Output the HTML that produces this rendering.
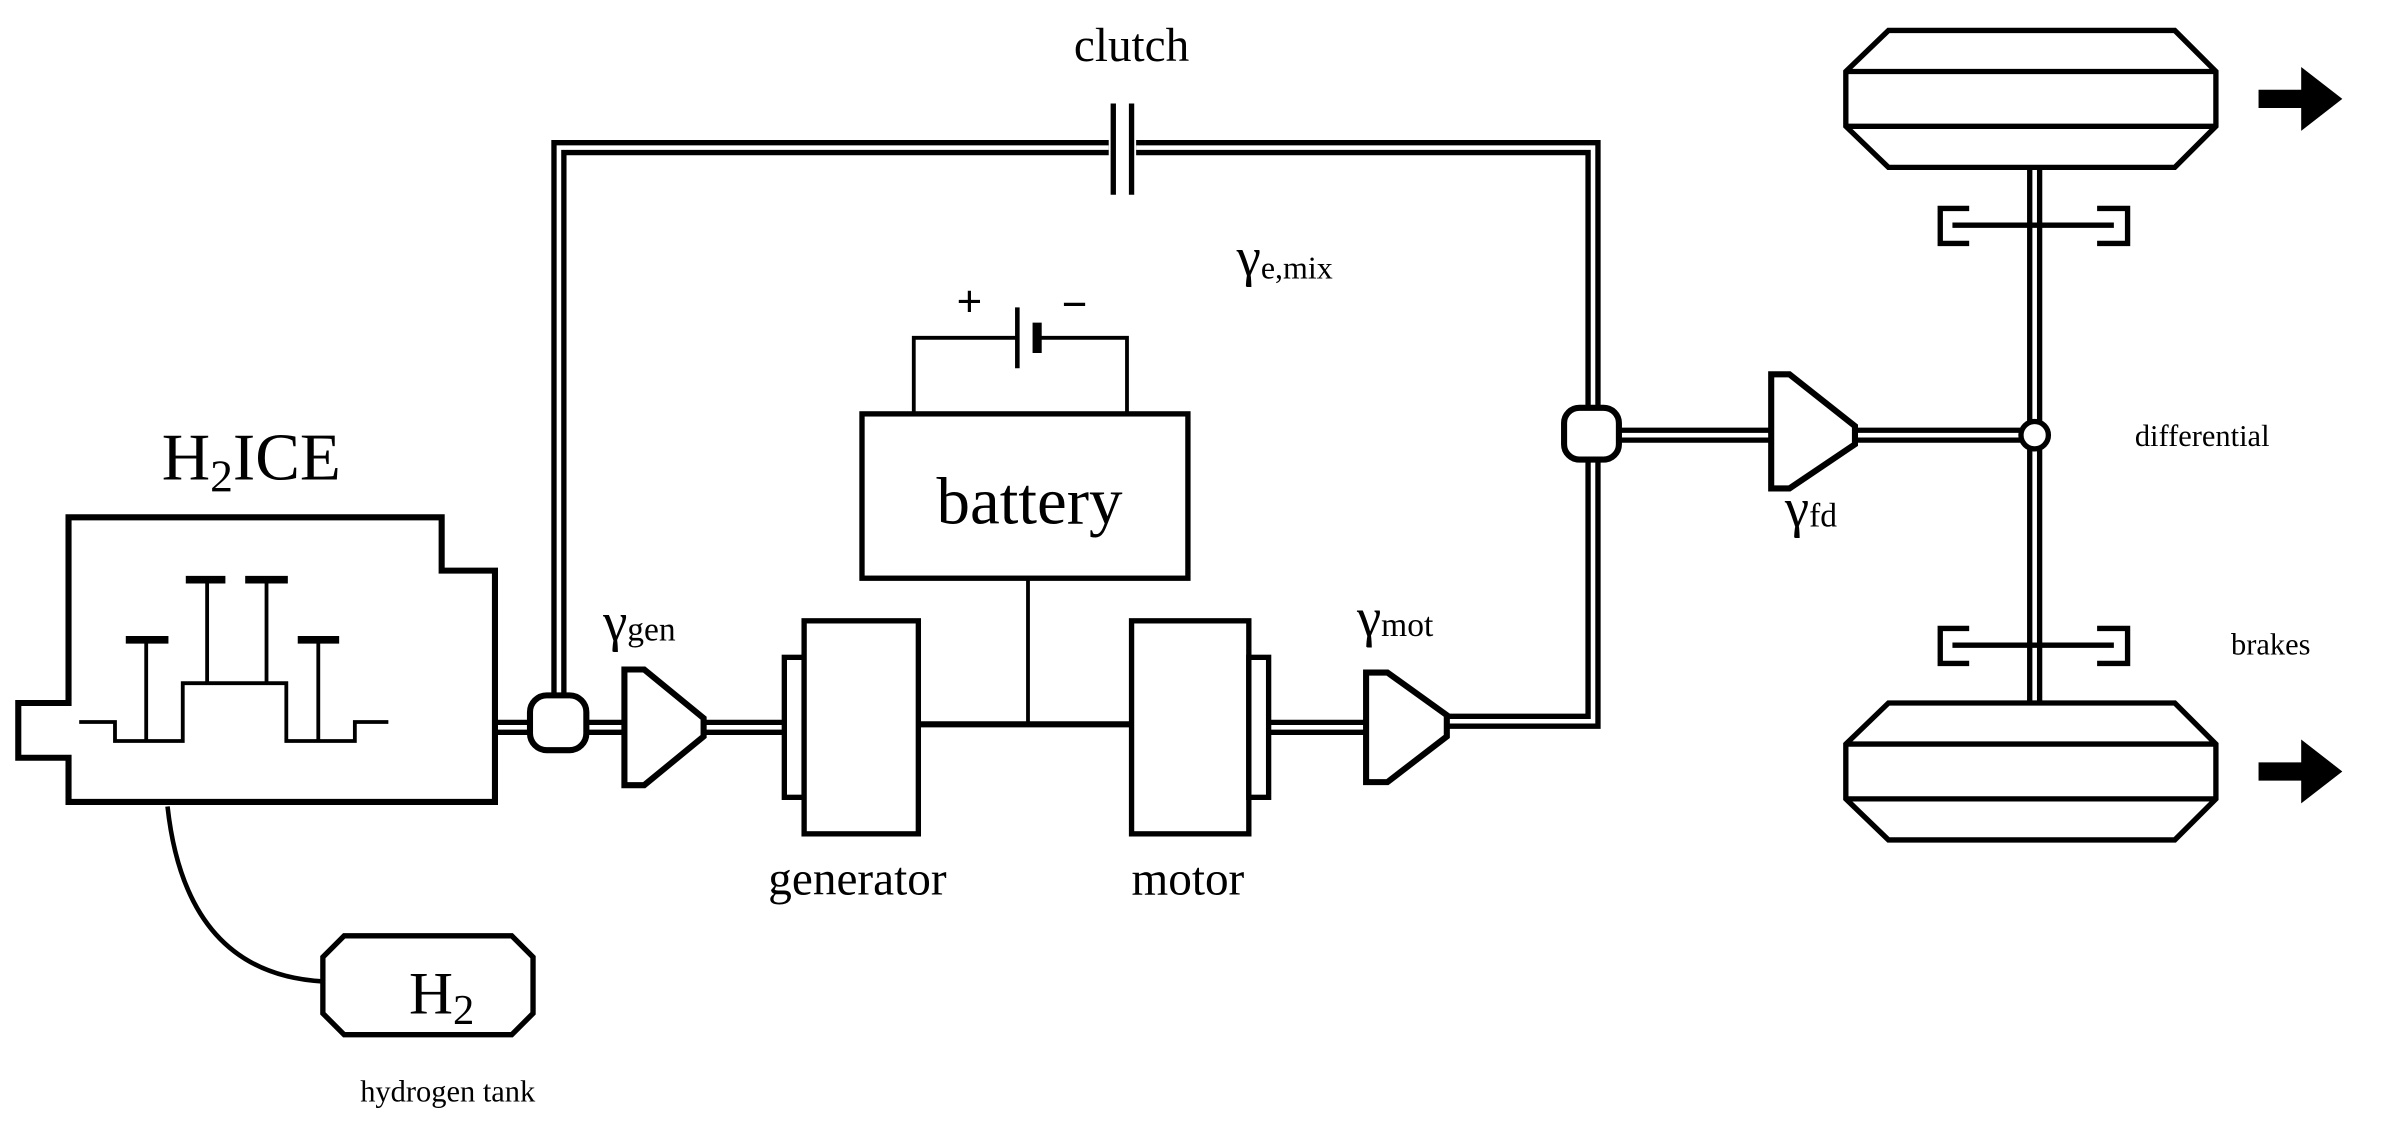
<!DOCTYPE html>
<html><head><meta charset="utf-8"><style>
html,body{margin:0;padding:0;background:#fff;}
svg{display:block;}
text{font-family:"Liberation Serif","DejaVu Serif",serif;fill:#000;}
</style></head><body>
<svg width="2388" height="1126" viewBox="0 0 1568 740" preserveAspectRatio="none" xmlns="http://www.w3.org/2000/svg">
<g fill="none" stroke="#000" stroke-linejoin="miter">
<g stroke-width="10">
<path d="M325,478 H410"/>
<path d="M367,460 V97 H728"/>
<path d="M746,97 H1046 V270"/>
<path d="M1046,300 V474 H950"/>
<path d="M462,478 H515"/>
<path d="M833,478 H897"/>
<path d="M1063,286 H1163"/>
<path d="M1218,286 H1327"/>
<path d="M1336,110 V277"/>
<path d="M1336,295 V462"/>
</g>
<g stroke="#fff" stroke-width="3">
<path d="M325,478 H410"/>
<path d="M367,460 V97 H728"/>
<path d="M746,97 H1046 V270"/>
<path d="M1046,300 V474 H950"/>
<path d="M462,478 H515"/>
<path d="M833,478 H897"/>
<path d="M1063,286 H1163"/>
<path d="M1218,286 H1327"/>
<path d="M1336,110 V277"/>
<path d="M1336,295 V462"/>
</g>
<path d="M731,68 V128 M743,68 V128" stroke-width="3.5"/>
<path d="M45,340 H290 V375 H325 V527 H45 V498 H12 V462 H45 Z" stroke-width="4" fill="#fff"/>
<path d="M52,474.5 H75.5 V487 H120 V449 H188 V487 H233 V474.5 H255" stroke-width="2.5"/>
<path d="M96,420.5 V487 M136,381 V449 M175,381 V449 M209,420.5 V487" stroke-width="2.5"/>
<path d="M82.6,420.5 H110.6 M122,381 H148 M161,381 H189 M195.5,420.5 H222.7" stroke-width="5"/>
<rect x="348" y="457" width="37" height="36" rx="11" stroke-width="4" fill="#fff"/>
<rect x="1027" y="268" width="36" height="34" rx="10" stroke-width="4" fill="#fff"/>
<path d="M410,440 H423 L462,472 V484 L423,516 H410 Z" stroke-width="4" fill="#fff"/>
<path d="M897,442 H911 L950,470 V484 L911,514 H897 Z" stroke-width="4" fill="#fff"/>
<path d="M1163,246 H1175 L1218,280 V292 L1175,321 H1163 Z" stroke-width="4" fill="#fff"/>
<rect x="515" y="432" width="13" height="92" stroke-width="3.5" fill="#fff"/>
<rect x="528" y="408" width="75" height="140" stroke-width="3.5" fill="#fff"/>
<rect x="743" y="408" width="77" height="140" stroke-width="3.5" fill="#fff"/>
<rect x="820" y="432" width="13" height="92" stroke-width="3.5" fill="#fff"/>
<path d="M603,476 H743" stroke-width="4"/>
<path d="M675,380 V476" stroke-width="2.5"/>
<rect x="566" y="272" width="214" height="108" stroke-width="3.5" fill="#fff"/>
<path d="M600,272 V222 H668 M740,272 V222 H680" stroke-width="2.5"/>
<path d="M668,202 V242" stroke-width="3"/>
<path d="M681,212 V232" stroke-width="6"/>
<circle cx="1336" cy="286" r="9" stroke-width="3.5" fill="#fff"/>
<path d="M1293,137 H1274 V160 H1293 M1282,148 H1388 M1377,137 H1397 V160 H1377" stroke-width="3.5"/>
<path d="M1293,413 H1274 V436 H1293 M1282,424 H1388 M1377,413 H1397 V436 H1377" stroke-width="3.5"/>
<path d="M1240,20 H1428 L1455,47 V83 L1428,110 H1240 L1212,83 V47 Z M1212,47 H1455 M1212,83 H1455" stroke-width="3.5" fill="#fff"/>
<path d="M1240,462 H1428 L1455,489 V525 L1428,552 H1240 L1212,525 V489 Z M1212,489 H1455 M1212,525 H1455" stroke-width="3.5" fill="#fff"/>
<path d="M110,530 Q122,640 212,645" stroke-width="3"/>
<path d="M226,615 H336 L350,629 V666 L336,680 H226 L212,666 V629 Z" stroke-width="3.5" fill="#fff"/>
</g>
<path d="M1483,59 H1511 V44 L1538,65 L1511,86 V71 H1483 Z" fill="#000"/>
<path d="M1483,501 H1511 V486 L1538,507 L1511,528 V513 H1483 Z" fill="#000"/>
<text x="743" y="40" font-size="31" text-anchor="middle">clutch</text>
<text x="812" y="181" font-size="36">γ<tspan font-size="21" dy="2">e,mix</tspan></text>
<text x="165" y="315" font-size="44" text-anchor="middle">H<tspan font-size="30" dy="8">2</tspan><tspan dy="-8">ICE</tspan></text>
<text x="676" y="344" font-size="44" text-anchor="middle">battery</text>
<text x="628" y="208" font-size="30" font-weight="bold" font-family="Liberation Sans">+</text>
<text x="697" y="210" font-size="30" font-weight="bold" font-family="Liberation Sans">−</text>
<text x="396" y="421" font-size="36">γ<tspan font-size="22">gen</tspan></text>
<text x="891" y="418" font-size="36">γ<tspan font-size="22">mot</tspan></text>
<text x="1172" y="346" font-size="36">γ<tspan font-size="22">fd</tspan></text>
<text x="563" y="588" font-size="31" text-anchor="middle">generator</text>
<text x="780" y="588" font-size="31" text-anchor="middle">motor</text>
<text x="1446" y="293" font-size="20" text-anchor="middle">differential</text>
<text x="1491" y="430" font-size="20" text-anchor="middle">brakes</text>
<text x="290" y="666" font-size="40" text-anchor="middle">H<tspan font-size="28" dy="7">2</tspan></text>
<text x="294" y="724" font-size="20" text-anchor="middle">hydrogen tank</text>
</svg>
</body></html>
